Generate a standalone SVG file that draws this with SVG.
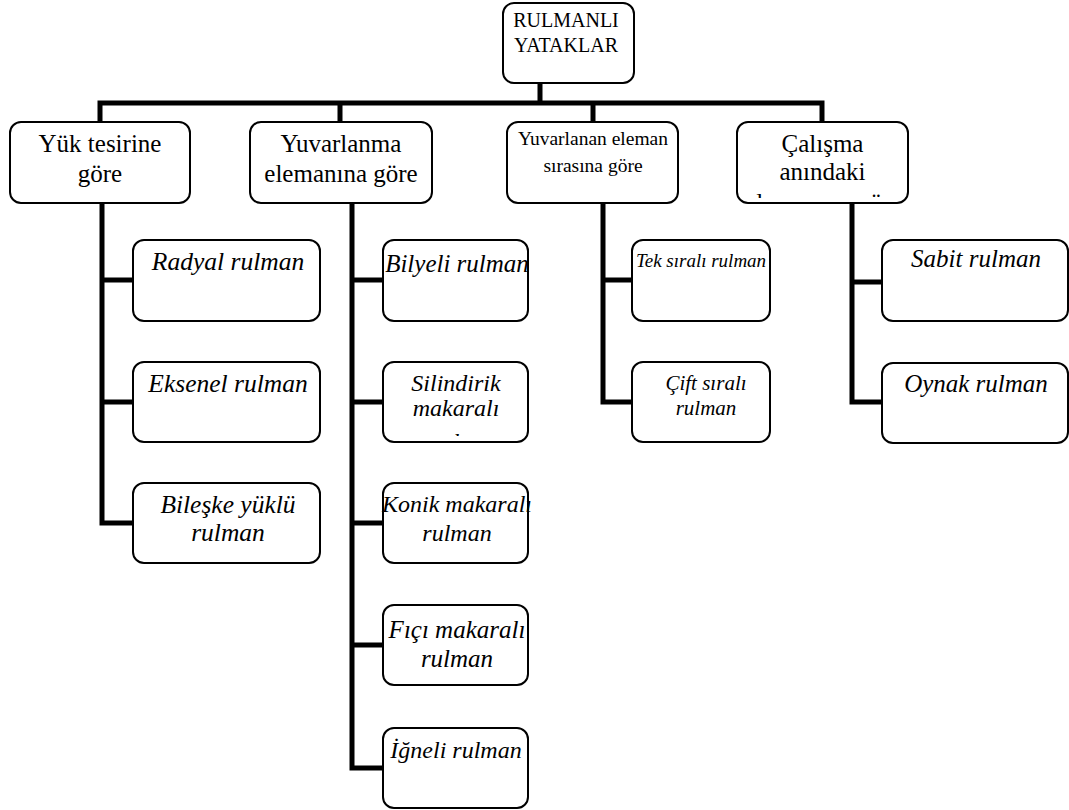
<svg xmlns="http://www.w3.org/2000/svg" width="1069" height="810" viewBox="0 0 1069 810">
<style>
.box{fill:#fff;stroke:#000;stroke-width:2}
.conn{fill:none;stroke:#000;stroke-width:5;stroke-linejoin:miter}
text{font-family:'Liberation Serif','DejaVu Serif','Noto Serif',serif;text-anchor:middle;fill:#000}
.r{font-size:20px}
.h{font-size:25px}
.s{font-size:19.5px}
.i{font-style:italic;font-size:24px}
.i1{font-size:25.5px}
.i4{font-size:25px}
</style>
<defs>
<clipPath id="clipCal"><rect x="737" y="122" width="171" height="76"/></clipPath>
<clipPath id="clipSil"><rect x="383" y="362" width="145" height="74"/></clipPath>
</defs>
<rect width="1069" height="810" fill="#fff"/>
<g id="connectors">
<path class="conn" d="M540,83 V103 M100,122 V103 H822 V122 M340,103 V122 M593,103 V122"/>
<path class="conn" d="M102,203 V523 H133 M102,280 H133 M102,402 H133"/>
<path class="conn" d="M352,203 V768 H383 M352,280 H383 M352,402 H383 M352,523 H383 M352,645 H383"/>
<path class="conn" d="M603,203 V402 H632 M603,280 H632"/>
<path class="conn" d="M852,203 V402 H882 M852,282 H882"/>
</g>
<g id="root">
<rect class="box" x="503" y="3" width="131" height="80" rx="11"/>
<text class="r" x="566" y="27">RULMANLI</text>
<text class="r" x="566" y="52">YATAKLAR</text>
</g>
<g id="yuk">
<rect class="box" x="10" y="122" width="180" height="81" rx="11"/>
<text class="h" x="100" y="152">Yük tesirine</text>
<text class="h" x="100" y="182">göre</text>
</g>
<g id="yuvarlanma">
<rect class="box" x="250" y="122" width="182" height="81" rx="11"/>
<text class="h" x="341" y="152">Yuvarlanma</text>
<text class="h" x="341" y="182">elemanına göre</text>
</g>
<g id="sira">
<rect class="box" x="507" y="122" width="171" height="81" rx="11"/>
<text class="s" x="593" y="145">Yuvarlanan eleman</text>
<text class="s" x="593" y="172">sırasına göre</text>
</g>
<g id="calisma">
<rect class="box" x="737" y="122" width="171" height="81" rx="11"/>
<text class="h" x="822.5" y="152">Çalışma</text>
<text class="h" x="822.5" y="180">anındaki</text>
<text class="h" x="826" y="211" clip-path="url(#clipCal)">durumuna göre</text>
</g>
<g id="radyal">
<rect class="box" x="133" y="240" width="187" height="81" rx="11"/>
<text class="i i1" x="228" y="270">Radyal rulman</text>
</g>
<g id="eksenel">
<rect class="box" x="133" y="362" width="187" height="80" rx="11"/>
<text class="i i1" x="228" y="392">Eksenel rulman</text>
</g>
<g id="bileske">
<rect class="box" x="133" y="483" width="187" height="80" rx="11"/>
<text class="i i1" x="228" y="513">Bileşke yüklü</text>
<text class="i i1" x="228" y="541">rulman</text>
</g>
<g id="bilyeli">
<rect class="box" x="383" y="240" width="145" height="81" rx="11"/>
<text class="i" x="457" y="272" style="font-size:25px">Bilyeli rulman</text>
</g>
<g id="silindirik">
<rect class="box" x="383" y="362" width="145" height="80" rx="11"/>
<text class="i" x="456" y="391">Silindirik</text>
<text class="i" x="456" y="416">makaralı</text>
<text class="i" x="466" y="450" clip-path="url(#clipSil)">rulman</text>
</g>
<g id="konik">
<rect class="box" x="383" y="483" width="145" height="80" rx="11"/>
<text class="i" x="457" y="512">Konik makaralı</text>
<text class="i" x="457" y="541">rulman</text>
</g>
<g id="fici">
<rect class="box" x="383" y="605" width="145" height="80" rx="11"/>
<text class="i" x="457" y="638" style="font-size:25px">Fıçı makaralı</text>
<text class="i" x="457" y="667" style="font-size:25px">rulman</text>
</g>
<g id="igneli">
<rect class="box" x="383" y="728" width="145" height="80" rx="11"/>
<text class="i" x="456" y="758">İğneli rulman</text>
</g>
<g id="tek">
<rect class="box" x="632" y="240" width="138" height="81" rx="11"/>
<text class="i" x="701" y="267" style="font-size:19px">Tek sıralı rulman</text>
</g>
<g id="cift">
<rect class="box" x="632" y="362" width="138" height="80" rx="11"/>
<text class="i" x="706" y="390" style="font-size:21px">Çift sıralı</text>
<text class="i" x="706" y="415" style="font-size:21px">rulman</text>
</g>
<g id="sabit">
<rect class="box" x="882" y="240" width="186" height="81" rx="11"/>
<text class="i i4" x="976" y="267">Sabit rulman</text>
</g>
<g id="oynak">
<rect class="box" x="882" y="363" width="186" height="80" rx="11"/>
<text class="i i4" x="976" y="392">Oynak rulman</text>
</g>
</svg>
